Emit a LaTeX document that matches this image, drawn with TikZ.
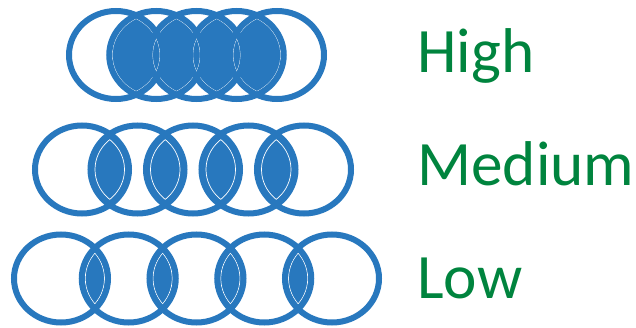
\documentclass[tikz,border=0pt]{standalone}
\usepackage{fontspec}
\setmainfont{Carlito}
\usepackage{tikz}
\definecolor{RingBlue}  {HTML}{2878BE}
\definecolor{LabelGreen}{HTML}{00843E}
\begin{document}
\begin{tikzpicture}[x=0.02cm,y=-0.02cm,
  ring/.style={draw=RingBlue,line width=0.12cm},
  lensfill/.style={fill=RingBlue},
  lensline/.style={draw=white,line width=0.4pt},
  lbl/.style={font=\fontsize{36}{40}\selectfont,text=LabelGreen,
    anchor=base west,inner sep=0pt}]
  \useasboundingbox (0,0) rectangle (636,328);
  \foreach \cy/\cx/\d/\in/\by/\txt/\name in {
      55/116/40.25/3/72/High/high,
      169.5/82/55.5/4.5/185/Medium/medium,
      278.5/61/67.75/3.5/298/Low/low}{
    % overlaps of neighbouring rings
    \foreach \i in {0,...,3}{
      \begin{scope}
        \clip (\cx+\i*\d,\cy) ellipse [x radius=47,y radius=44];
        \fill[lensfill] (\cx+\i*\d+\d,\cy) ellipse [x radius=47,y radius=44];
      \end{scope}
    }
    % thin white lens edges
    \foreach \i in {0,...,3}{
      \begin{scope}
        \clip (\cx+\i*\d,\cy) ellipse [x radius=47-\in,y radius=44-\in];
        \draw[lensline] (\cx+\i*\d+\d,\cy) ellipse [x radius=47-\in,y radius=44-\in];
      \end{scope}
      \begin{scope}
        \clip (\cx+\i*\d+\d,\cy) ellipse [x radius=47-\in,y radius=44-\in];
        \draw[lensline] (\cx+\i*\d,\cy) ellipse [x radius=47-\in,y radius=44-\in];
      \end{scope}
    }
    % rings
    \foreach \i in {0,...,4}
      \draw[ring] (\cx+\i*\d,\cy) ellipse [x radius=47,y radius=44];
    \node[lbl] (\name) at (417,\by) {\txt};
  }
\end{tikzpicture}
\end{document}
